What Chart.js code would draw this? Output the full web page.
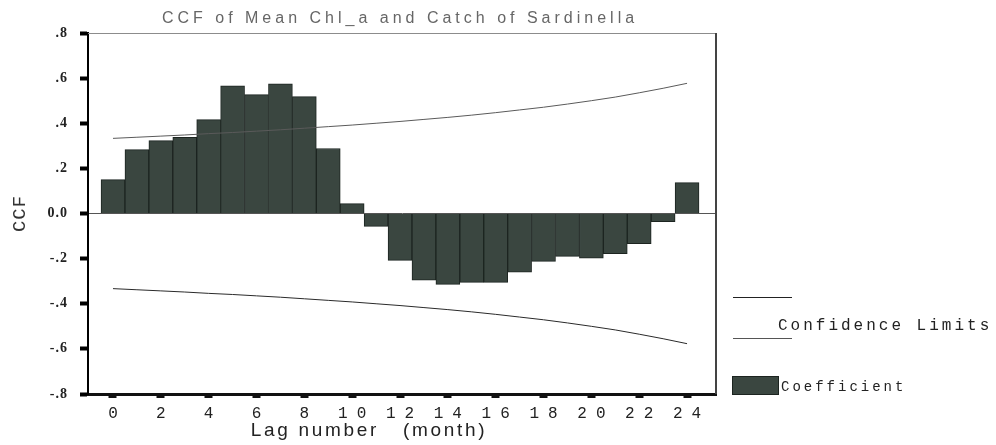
<!DOCTYPE html>
<html>
<head>
<meta charset="utf-8">
<script src="https://cdn.jsdelivr.net/npm/chart.js@4.4.1/dist/chart.umd.min.js"></script>
<style>
  html, body { margin: 0; padding: 0; background: #fff; }
</style>
</head>
<body>
<canvas id="ccf" width="996" height="445"></canvas>
<script>
const lags = [0, 1, 2, 3, 4, 5, 6, 7, 8, 9, 10, 11, 12, 13, 14, 15, 16, 17, 18, 19, 20, 21, 22, 23, 24];
const coefficient = [0.15, 0.283, 0.323, 0.338, 0.416, 0.566, 0.527, 0.575, 0.518, 0.288, 0.044,
  -0.057, -0.208, -0.296, -0.314, -0.305, -0.305, -0.26, -0.212, -0.19, -0.198, -0.178, -0.134, -0.036, 0.137];
const upperLimit = [0.333, 0.338, 0.343, 0.348, 0.354, 0.359, 0.365, 0.371, 0.378, 0.385, 0.392, 0.4,
  0.408, 0.417, 0.426, 0.436, 0.447, 0.459, 0.471, 0.485, 0.5, 0.516, 0.535, 0.555, 0.577];
const lowerLimit = [-0.333, -0.338, -0.343, -0.348, -0.354, -0.359, -0.365, -0.371, -0.378, -0.385, -0.392, -0.4,
  -0.408, -0.417, -0.426, -0.436, -0.447, -0.459, -0.471, -0.485, -0.5, -0.516, -0.535, -0.555, -0.577];
const xTicks = [0, 2, 4, 6, 8, 10, 12, 14, 16, 18, 20, 22, 24];
const yTickValues = [-0.8, -0.6, -0.4, -0.2, 0, 0.2, 0.4, 0.6, 0.8];
const yTickLabels = ["-.8", "-.6", "-.4", "-.2", "0.0", ".2", ".4", ".6", ".8"];

const titleText = "CCF of Mean Chl_a and Catch of Sardinella";
const xTitle = "Lag number   (month)";

const barFill = "#3a4640";
const barEdge = "#1c2420";

const pts = (ys) => lags.map((x, i) => ({ x, y: ys[i] }));

// frame, title and the side legend are drawn by hand
const extras = {
  id: "extras",
  beforeDraw(chart) {
    chart.ctx.letterSpacing = "1px";
  },
  afterDatasetsDraw(chart) {
    chart.ctx.letterSpacing = "9px"; // x tick labels come after this (ticks.z = 1)
  },
  afterDraw(chart) {
    const { ctx, chartArea: a } = chart;
    ctx.save();
    ctx.strokeStyle = "#8c8c8c";
    ctx.lineWidth = 1;
    ctx.beginPath();
    ctx.moveTo(a.left, a.top + 0.5);
    ctx.lineTo(a.right, a.top + 0.5);
    ctx.stroke();
    ctx.strokeStyle = "#444";
    ctx.lineWidth = 2;
    ctx.beginPath();
    ctx.moveTo(a.right, a.top);
    ctx.lineTo(a.right, a.bottom);
    ctx.stroke();

    ctx.textBaseline = "middle";
    ctx.textAlign = "center";
    ctx.letterSpacing = "4px";
    ctx.font = '16px "Liberation Sans"';
    ctx.fillStyle = "#666";
    ctx.fillText(titleText, 400, 19);

    ctx.letterSpacing = "2.7px";
    ctx.font = '19px "Liberation Sans"';
    ctx.fillStyle = "#222";
    ctx.fillText(xTitle, 369, 431);

    // legend
    ctx.lineWidth = 1;
    ctx.strokeStyle = "#222";
    ctx.beginPath();
    ctx.moveTo(733, 297.5);
    ctx.lineTo(792, 297.5);
    ctx.stroke();
    ctx.strokeStyle = "#555";
    ctx.beginPath();
    ctx.moveTo(733, 338.5);
    ctx.lineTo(792, 338.5);
    ctx.stroke();
    ctx.textAlign = "left";
    ctx.letterSpacing = "3px";
    ctx.font = '16px "Liberation Mono"';
    ctx.fillStyle = "#222";
    ctx.fillText("Confidence Limits", 778, 326);

    ctx.fillStyle = barFill;
    ctx.fillRect(732, 376, 47, 19);
    ctx.strokeStyle = barEdge;
    ctx.strokeRect(732.5, 376.5, 46, 18);
    ctx.fillStyle = "#222";
    ctx.font = '14px "Liberation Mono"';
    ctx.fillText("Coefficient", 781, 387);
    ctx.restore();
  }
};

new Chart(document.getElementById("ccf"), {
  data: {
    datasets: [
      {
        type: "line",
        label: "Confidence Limits",
        data: pts(upperLimit),
        borderColor: "#5a5a5a",
        borderWidth: 1,
        pointRadius: 0,
        order: 0,
      },
      {
        type: "line",
        label: "Confidence Limits",
        data: pts(lowerLimit),
        borderColor: "#2a2a2a",
        borderWidth: 1,
        pointRadius: 0,
        order: 0,
      },
      {
        type: "bar",
        label: "Coefficient",
        data: pts(coefficient),
        backgroundColor: barFill,
        borderColor: barEdge,
        borderWidth: 1,
        barPercentage: 1,
        categoryPercentage: 1,
        order: 1,
      },
    ],
  },
  options: {
    responsive: false,
    animation: false,
    devicePixelRatio: 1,
    layout: { padding: { top: 33, right: 280, left: 0, bottom: 0 } },
    plugins: {
      legend: { display: false },
      title: { display: false },
      tooltip: { enabled: false },
    },
    scales: {
      x: {
        type: "linear",
        offset: false,
        min: -1.045,
        max: 25.21,
        afterFit: (s) => { s.height = 51; },
        afterBuildTicks: (s) => { s.ticks = xTicks.map((v) => ({ value: v })); },
        border: { color: "#111", width: 3 },
        grid: {
          offset: false,
          drawOnChartArea: false,
          tickLength: 4,
          tickWidth: 8,
          tickColor: "#111",
        },
        ticks: {
          z: 1,
          padding: 6,
          labelOffset: 4.5,
          color: "#222",
          font: { family: "Liberation Mono", size: 16 },
          callback: (v) => String(v),
        },
      },
      y: {
        min: -0.8,
        max: 0.8,
        afterFit: (s) => { s.width = 88; },
        afterBuildTicks: (s) => { s.ticks = yTickValues.map((v) => ({ value: v })); },
        border: { color: "#000", width: 2 },
        grid: {
          color: (c) => (c.tick && Math.abs(c.tick.value) < 1e-9 ? "#555" : "rgba(0,0,0,0)"),
          lineWidth: 1,
          tickLength: 8,
          tickWidth: 4,
          tickColor: "#000",
        },
        ticks: {
          padding: 12,
          color: "#222",
          font: { family: "Liberation Serif", size: 14, weight: "bold" },
          callback: (v, i) => yTickLabels[i],
        },
        title: {
          display: true,
          text: "CCF",
          color: "#333",
          font: { family: "Liberation Mono", size: 19 },
          padding: { top: 9, bottom: 0 },
        },
      },
    },
  },
  plugins: [extras],
});
</script>
</body>
</html>
